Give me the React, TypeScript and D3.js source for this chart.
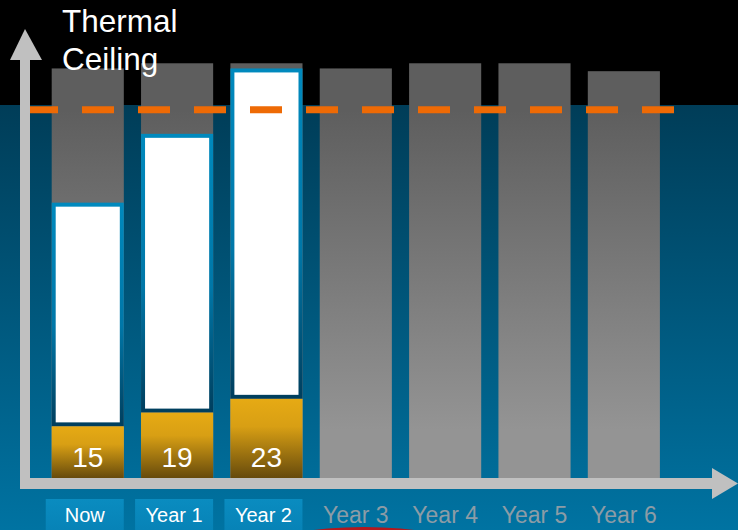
import React from "react";
import * as d3 from "d3";

// Periods along the time axis
const periods = ["Now", "Year 1", "Year 2", "Year 3", "Year 4", "Year 5", "Year 6"];
// Available headroom per period (gray columns)
const capacity = [119, 120.5, 120.5, 119, 120.5, 120.5, 118.2];
// Projected peak load (white boxes) for the periods already planned
const peakLoad = [80, 100, 119];
// Current load (gold bars) with their labels
const currentLoad = [15, 19, 23];
// Thermal ceiling level (dashed line)
const thermalCeiling = 107;
const titleLines = ["Thermal", "Ceiling"];

const W = 738;
const H = 530;
const FONT = "'Liberation Sans', Arial, Helvetica, sans-serif";

export default function App() {
  const x = d3
    .scaleBand<string>()
    .domain(periods)
    .range([51.7, 659.9])
    .paddingInner(0.193)
    .paddingOuter(0);
  const y = d3.scaleLinear().domain([0, 120]).range([478, 65]);
  const bw = x.bandwidth();
  const base = y(0);
  const border = 4;

  return (
    <svg
      width={W}
      height={H}
      style={{ position: "absolute", left: 0, top: 0, display: "block" }}
      fontFamily={FONT}
    >
      <defs>
        <linearGradient id="sea" x1="0" y1="105" x2="0" y2="530" gradientUnits="userSpaceOnUse">
          <stop offset="0" stopColor="#003d58" />
          <stop offset="1" stopColor="#0073a2" />
        </linearGradient>
        <linearGradient id="grayCol" x1="0" y1="110" x2="0" y2="430" gradientUnits="userSpaceOnUse">
          <stop offset="0" stopColor="#5e5e5e" />
          <stop offset="1" stopColor="#949494" />
        </linearGradient>
        <linearGradient id="gold" x1="0" y1="0" x2="0" y2="1">
          <stop offset="0" stopColor="#e6aa14" />
          <stop offset="0.35" stopColor="#d89f14" />
          <stop offset="1" stopColor="#664a0c" />
        </linearGradient>
        <linearGradient id="boxEdge" x1="0" y1="0" x2="0" y2="1">
          <stop offset="0" stopColor="#0089bd" />
          <stop offset="0.55" stopColor="#0077a8" />
          <stop offset="1" stopColor="#003f5e" />
        </linearGradient>
        <linearGradient id="tag" x1="0" y1="0" x2="0" y2="1">
          <stop offset="0" stopColor="#0a8cc0" />
          <stop offset="1" stopColor="#0680b4" />
        </linearGradient>
      </defs>

      {/* backdrop: black sky above the sea-blue field */}
      <rect x={0} y={0} width={W} height={H} fill="#000" />
      <rect x={0} y={105} width={W} height={H - 105} fill="url(#sea)" />

      {/* red marker peeking in at the bottom */}
      <ellipse cx={364} cy={547} rx={95} ry={20} fill="#b3191e" />

      {/* capacity columns */}
      {periods.map((p, i) => (
        <rect
          key={"cap" + p}
          x={x(p)}
          y={y(capacity[i])}
          width={bw}
          height={base - y(capacity[i])}
          fill="url(#grayCol)"
        />
      ))}

      {/* projected peak boxes */}
      {peakLoad.map((v, i) => {
        const p = periods[i];
        const top = y(v);
        const bottom = y(currentLoad[i]);
        return (
          <rect
            key={"peak" + p}
            x={(x(p) as number) + border / 2}
            y={top + border / 2}
            width={bw - border}
            height={bottom - top - border}
            fill="#ffffff"
            stroke="url(#boxEdge)"
            strokeWidth={border}
          />
        );
      })}

      {/* current load bars */}
      {currentLoad.map((v, i) => {
        const p = periods[i];
        return (
          <g key={"cur" + p}>
            <rect x={x(p)} y={y(v)} width={bw} height={base - y(v)} fill="url(#gold)" />
            <text
              x={(x(p) as number) + bw / 2}
              y={467}
              textAnchor="middle"
              fontSize={28}
              fill="#ffffff"
            >
              {v}
            </text>
          </g>
        );
      })}

      {/* thermal ceiling */}
      <line
        x1={26}
        x2={674}
        y1={y(thermalCeiling)}
        y2={y(thermalCeiling)}
        stroke="#ee6a05"
        strokeWidth={7}
        strokeDasharray="32 24"
      />

      {/* axes */}
      <rect x={20} y={60} width={10} height={429} fill="#c0c0c0" />
      <path d="M25,29 L42,60 L10,60 Z" fill="#c0c0c0" />
      <rect x={20} y={478} width={692} height={11} fill="#c0c0c0" />
      <path d="M738,483.5 L712,468 L712,499 Z" fill="#c0c0c0" />

      {/* title */}
      <text x={62} y={32} fontSize={31.5} fill="#ffffff">
        {titleLines.map((t, i) => (
          <tspan key={t} x={62} dy={i === 0 ? 0 : 38}>
            {t}
          </tspan>
        ))}
      </text>

      {/* period labels */}
      {periods.map((p, i) => {
        const cx = (x(p) as number) + bw / 2;
        const planned = i < currentLoad.length;
        if (planned) {
          return (
            <g key={"lab" + p}>
              <rect x={cx - 3 - 39} y={499} width={78} height={40} fill="url(#tag)" />
              <text x={cx - 3} y={522} textAnchor="middle" fontSize={20} fill="#ffffff">
                {p}
              </text>
            </g>
          );
        }
        return (
          <text
            key={"lab" + p}
            x={cx}
            y={522.5}
            textAnchor="middle"
            fontSize={23}
            fill="#8c9ca6"
          >
            {p}
          </text>
        );
      })}
    </svg>
  );
}
